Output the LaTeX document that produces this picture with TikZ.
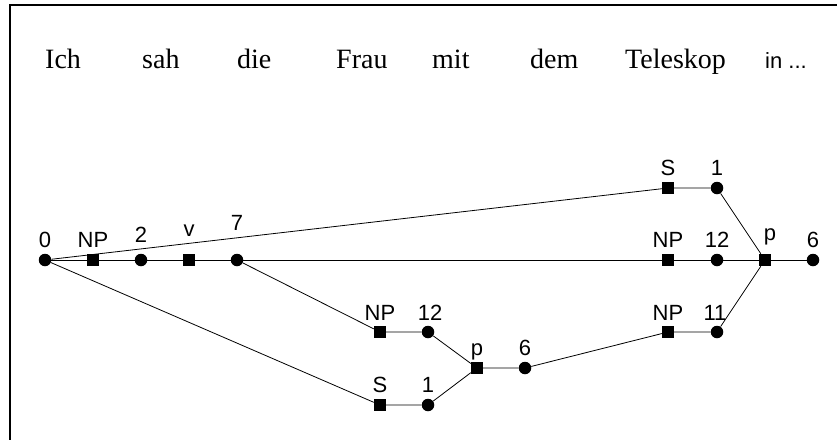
\documentclass[tikz,border=0pt]{standalone}
\usepackage{fontspec}
\setmainfont{Liberation Serif}
\setsansfont{Liberation Sans}
\begin{document}
\begin{tikzpicture}[x=1pt,y=-1pt,
  dot/.style={circle,fill=black,inner sep=0pt,minimum size=12.5pt},
  sq/.style={rectangle,fill=black,inner sep=0pt,minimum size=12pt},
  lab/.style={anchor=base,font=\sffamily\fontsize{22}{22}\selectfont,inner sep=0pt},
  word/.style={anchor=base west,font=\fontsize{28}{28}\selectfont,inner sep=0pt},
  edge/.style={line width=0.8pt}]
\useasboundingbox (0,0) rectangle (837,440);
\draw[line width=2pt] (837,5) -- (10,5) -- (10,440);
% words
\node[word] (w1) at (45,68) {Ich};
\node[word] (w2) at (142,68) {sah};
\node[word] (w3) at (237,68) {die};
\node[word] (w4) at (336,68) {Frau};
\node[word] (w5) at (432,68) {mit};
\node[word] (w6) at (530,68) {dem};
\node[word] (w7) at (625,68) {Teleskop};
\node[word,font=\sffamily\fontsize{22}{22}\selectfont] (w8) at (765,68) {in ...};
% nodes
\node[dot] (n0) at (45,260) {};
\node[sq] (a1) at (93,260) {};
\node[dot] (n2) at (141,260) {};
\node[sq] (a2) at (189,260) {};
\node[dot] (n7) at (237,260) {};
\node[sq] (sT) at (668,188) {};
\node[dot] (n1t) at (717,188) {};
\node[sq] (npM) at (668,260) {};
\node[dot] (n12m) at (717,260) {};
\node[sq] (pR) at (765,260) {};
\node[dot] (n6r) at (813,260) {};
\node[sq] (npA) at (380,332) {};
\node[dot] (n12a) at (428,332) {};
\node[sq] (pL) at (477,368) {};
\node[dot] (n6l) at (525,368) {};
\node[sq] (sB) at (380,405) {};
\node[dot] (n1b) at (428,405) {};
\node[sq] (npB) at (668,332) {};
\node[dot] (n11) at (717,332) {};
% labels
\node[lab] (l0) at (45,247) {0};
\node[lab] (l1) at (93,247) {NP};
\node[lab] (l2) at (141,242) {2};
\node[lab] (l3) at (189,236) {v};
\node[lab] (l4) at (237,230) {7};
\node[lab] (l5) at (668,175) {S};
\node[lab] (l6) at (717,175) {1};
\node[lab] (l7) at (668,247) {NP};
\node[lab] (l8) at (717,247) {12};
\node[lab] (l9) at (770,240) {p};
\node[lab] (l10) at (813,247) {6};
\node[lab] (l11) at (380,320) {NP};
\node[lab] (l12) at (430,320) {12};
\node[lab] (l13) at (477,355) {p};
\node[lab] (l14) at (525,355) {6};
\node[lab] (l15) at (380,392) {S};
\node[lab] (l16) at (428,392) {1};
\node[lab] (l17) at (668,320) {NP};
\node[lab] (l18) at (715,320) {11};
% edges
\draw[edge] (n0) -- (a1) -- (n2) -- (a2) -- (n7) -- (npM) -- (n12m) -- (pR) -- (n6r);
\draw[edge] (n0) -- (sT) -- (n1t) -- (pR);
\draw[edge] (n0) -- (sB) -- (n1b) -- (pL);
\draw[edge] (n7) -- (npA) -- (n12a) -- (pL);
\draw[edge] (pL) -- (n6l) -- (npB) -- (n11) -- (pR);
\end{tikzpicture}
\end{document}
